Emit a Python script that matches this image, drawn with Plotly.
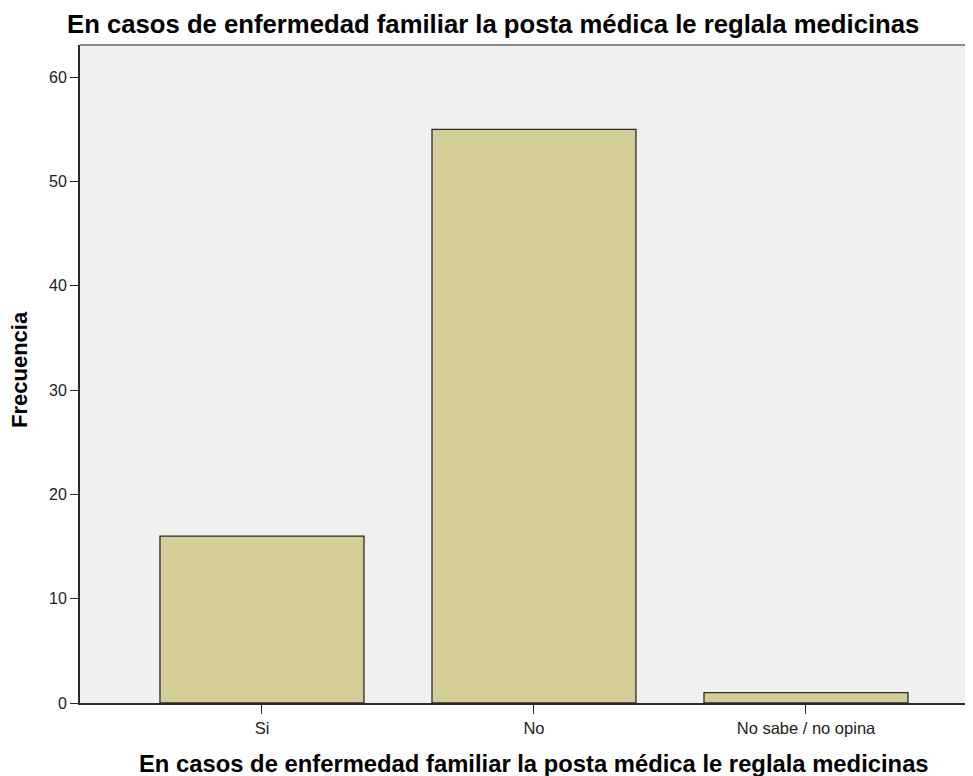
import plotly.graph_objects as go

categories = ["Si", "No", "No sabe / no opina"]
frecuencia = [16, 55, 1]
y_ticks = [0, 10, 20, 30, 40, 50, 60]

title_text = "En casos de enfermedad familiar la posta médica le reglala medicinas"
x_title = "En casos de enfermedad familiar la posta médica le reglala medicinas"
y_title = "Frecuencia"

# page has an 8px body margin; figure sized so the plot reaches the right edge
W, H = 965, 768

fig = go.Figure()
fig.add_trace(go.Bar(
    x=categories,
    y=frecuencia,
    width=0.75,
    marker=dict(color="#D3CE98", line=dict(color="#2b2b2b", width=1.3)),
    hoverinfo="x+y",
))

fig.update_layout(
    width=W, height=H,
    margin=dict(l=72, r=0, t=37, b=73),
    paper_bgcolor="white",
    plot_bgcolor="#F0F0F0",
    showlegend=False,
    title=dict(
        text=title_text,
        x=59 / W, xanchor="left",
        y=1 - 16 / H, yanchor="middle",
        font=dict(family="Liberation Sans, Arial", size=25.7, color="black", weight="bold"),
    ),
    annotations=[
        dict(text=x_title, xref="paper", yref="paper", x=0.5, y=0,
             xanchor="center", yanchor="middle", xshift=7, yshift=-60,
             showarrow=False,
             font=dict(family="Liberation Sans, Arial", size=23.8, color="black", weight="bold")),
        dict(text=y_title, xref="paper", yref="paper", x=0, y=0.5,
             xanchor="center", yanchor="middle", xshift=-61, yshift=4,
             textangle=-90, showarrow=False,
             font=dict(family="Liberation Sans, Arial", size=22, color="black", weight="bold")),
    ],
)

fig.update_xaxes(
    type="category",
    range=[-0.669, 2.614],
    showline=True, linecolor="#2b2b2b", linewidth=1.8,
    ticks="outside", ticklen=9, tickcolor="#2b2b2b", tickwidth=1.3,
    showgrid=False, zeroline=False,
    tickfont=dict(family="Liberation Sans, Arial", size=16.5, color="#222222"),
)
fig.update_yaxes(
    range=[0, 63.1],
    tickvals=y_ticks,
    showline=True, linecolor="#2b2b2b", linewidth=2,
    ticks="outside", ticklen=8, tickcolor="#2b2b2b", tickwidth=1.3,
    showgrid=False, zeroline=False,
    tickfont=dict(family="Liberation Sans, Arial", size=16, color="#222222"),
)

# top border of plot frame (gray)
fig.add_shape(type="line", xref="paper", yref="paper", x0=0, x1=1, y0=1, y1=1,
              line=dict(color="#8a8a8a", width=2))

fig.write_html("out.html")
